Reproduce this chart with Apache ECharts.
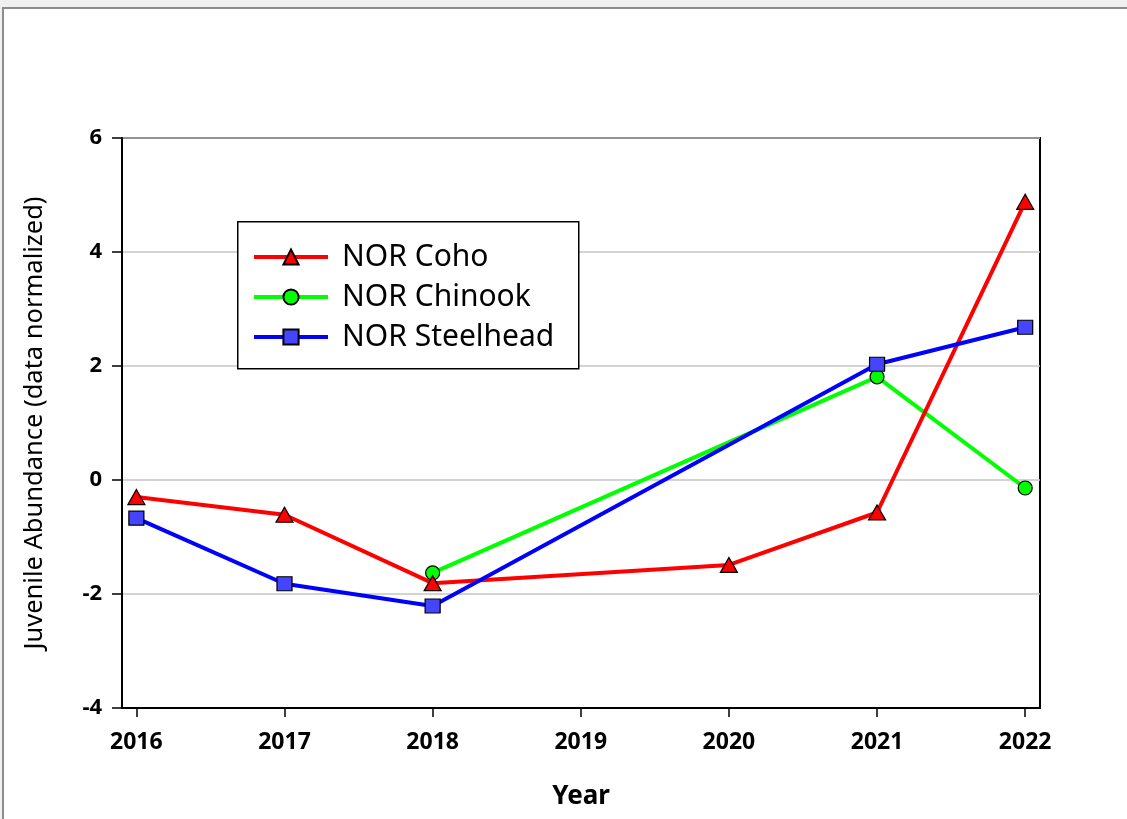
<!DOCTYPE html>
<html>
<head>
<meta charset="utf-8">
<script src="https://cdn.jsdelivr.net/npm/echarts@6/dist/echarts.min.js"></script>
<style>
  html, body { margin: 0; padding: 0; background: #f0f0f0; overflow: hidden; }
  #sheet { position: absolute; left: 2px; top: 7px; width: 1140px; height: 830px;
           background: #fff; border-left: 2px solid #8c8c8c; border-top: 2px solid #8c8c8c; }
  #chart { position: absolute; left: 0; top: 0; width: 1127px; height: 819px; }
</style>
</head>
<body>
<div id="sheet"></div>
<div id="chart"></div>
<script>
// Survey years (no sampling in 2019)
const years = [2016, 2017, 2018, 2019, 2020, 2021, 2022];
const yearTicks = [2016, 2017, 2018, 2019, 2020, 2021, 2022];

// Normalized juvenile abundance per species; null = not sampled
const coho      = [-0.30, -0.61, -1.81, null, -1.49, -0.57, 4.88];
const chinook   = [null,  null,  -1.63, null, null,   1.81, -0.14];
const steelhead = [-0.67, -1.82, -2.21, null, null,   2.03,  2.68];

const seriesNames = ['NOR Coho', 'NOR Chinook', 'NOR Steelhead'];

function pairs(values) {
  const out = [];
  years.forEach((y, i) => { if (values[i] !== null) out.push([y, values[i]]); });
  return out;
}

const FONT = '"Noto Sans", "Open Sans", sans-serif';

const chart = echarts.init(document.getElementById('chart'), null, { renderer: 'canvas' });

chart.setOption({
  backgroundColor: 'transparent',
  animation: false,
  grid: {
    left: 122, top: 138, width: 918, height: 570,
    show: true, borderColor: '#000', borderWidth: 2, backgroundColor: 'transparent'
  },
  graphic: [{
    type: 'rect', left: 237, top: 221, z: 10,
    shape: { width: 341, height: 147 },
    style: { fill: '#fff', stroke: '#000', lineWidth: 1.5 }
  }],
  legend: {
    orient: 'vertical', left: 247, top: 237, z: 20,
    itemWidth: 74, itemHeight: 19, itemGap: 10,
    lineStyle: { width: 4 },
    textStyle: { fontFamily: FONT, fontSize: 30, color: '#000', padding: [0, 0, 0, 9] },
    data: seriesNames
  },
  xAxis: {
    type: 'value', min: 2015.903, max: 2022.1,
    name: 'Year', nameLocation: 'middle', nameGap: 76,
    nameTextStyle: { fontFamily: FONT, fontSize: 26, fontWeight: 'bold', color: '#000' },
    axisLine: { show: true, onZero: false, lineStyle: { color: '#000', width: 2 } },
    axisTick: { show: true, inside: false, length: 9, customValues: yearTicks, lineStyle: { color: '#000', width: 1.5 } },
    axisLabel: { customValues: yearTicks, formatter: v => String(v), margin: 23,
                 fontFamily: FONT, fontSize: 23, fontWeight: 'bold', color: '#000' },
    splitLine: { show: false }
  },
  yAxis: {
    type: 'value', min: -4, max: 6, interval: 2,
    name: 'Juvenile Abundance (data normalized)', nameLocation: 'middle', nameGap: 74,
    nameTextStyle: { fontFamily: FONT, fontSize: 25.5, color: '#000' },
    axisLine: { show: true, onZero: false, lineStyle: { color: '#000', width: 2 } },
    axisTick: { show: true, inside: false, length: 10, lineStyle: { color: '#000', width: 1.5 } },
    axisLabel: { margin: 20, fontFamily: FONT, fontSize: 22, fontWeight: 'bold', color: '#000' },
    splitLine: { show: true, lineStyle: { color: '#c4c4c4', width: 1.5 } }
  },
  series: [
    {
      name: seriesNames[0], type: 'line', data: pairs(coho),
      symbol: 'triangle', symbolSize: [17, 15],
      lineStyle: { color: '#ff0000', width: 4 },
      itemStyle: { color: '#ff0000', borderColor: '#000', borderWidth: 1.2 },
      z: 3
    },
    {
      name: seriesNames[1], type: 'line', data: pairs(chinook),
      symbol: 'circle', symbolSize: 14,
      lineStyle: { color: '#00ff00', width: 4 },
      itemStyle: { color: '#00ff00', borderColor: '#000', borderWidth: 1.2 },
      z: 2
    },
    {
      name: seriesNames[2], type: 'line', data: pairs(steelhead),
      symbol: 'rect', symbolSize: [15, 14],
      lineStyle: { color: '#0000ff', width: 4 },
      itemStyle: { color: '#4545ff', borderColor: '#000', borderWidth: 1.2 },
      z: 4
    }
  ]
});
</script>
</body>
</html>
